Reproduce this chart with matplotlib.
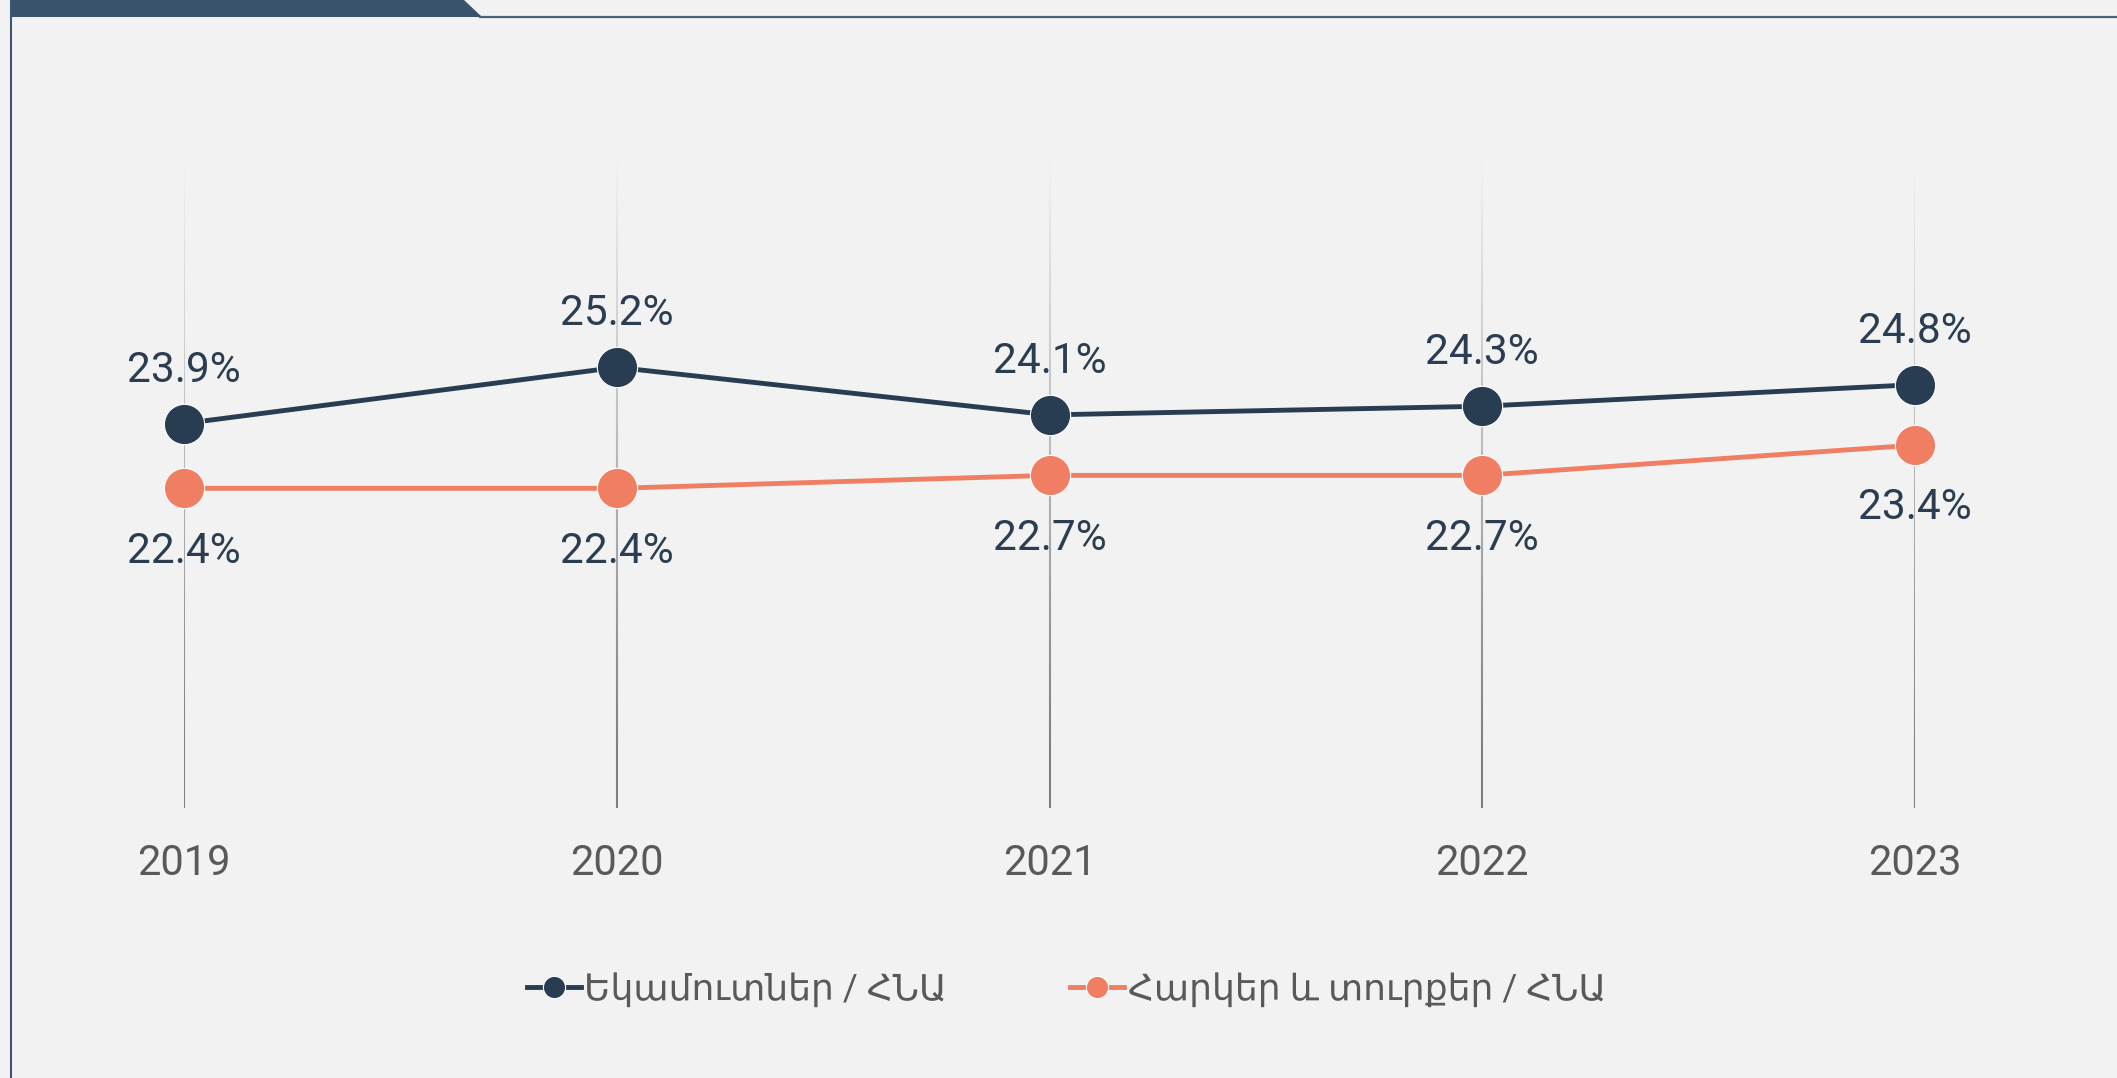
import numpy as np
import matplotlib
matplotlib.use("Agg")
import matplotlib.pyplot as plt
from matplotlib.collections import LineCollection
from matplotlib.lines import Line2D
from matplotlib.patches import Polygon

years = ["2019", "2020", "2021", "2022", "2023"]
revenues = [23.9, 25.2, 24.1, 24.3, 24.8]
taxes = [22.4, 22.4, 22.7, 22.7, 23.4]
series_names = ["Եկամուտներ / ՀՆԱ", "Հարկեր և տուրքեր / ՀՆԱ"]

BG = "#f2f2f2"
DARK = "#283d52"
ORANGE = "#f07e63"
FONT = ["Roboto", "DejaVu Sans"]
plt.rcParams["font.family"] = FONT

W, H = 2117, 1078
fig = plt.figure(figsize=(W / 100, H / 100), dpi=100, facecolor=BG)

def fx(px):
    return px / W
def fy(py):
    return 1 - py / H

# frame decorations
fig.patches.append(Polygon([(fx(11), fy(0)), (fx(464), fy(0)), (fx(482), fy(17)), (fx(11), fy(17))],
                           closed=True, transform=fig.transFigure, facecolor="#38536b", edgecolor="none"))
fig.add_artist(Line2D([fx(480), 1.0], [fy(17), fy(17)], transform=fig.transFigure, color="#4a6078", lw=1.6))
fig.add_artist(Line2D([fx(11), fx(11)], [0, 1], transform=fig.transFigure, color="#3d5570", lw=1.5))

x = np.arange(len(years))
left, right = 184, 1915
top, bottom = 160, 808
ax = fig.add_axes([fx(left), fy(bottom), (right - left) / W, (bottom - top) / H])
ax.set_facecolor("none")
ax.set_xlim(0, len(years) - 1)
ax.set_ylim(15, 30)
for s in ax.spines.values():
    s.set_visible(False)
ax.set_yticks([])

# gradient vertical grid lines
N = 120
ys = np.linspace(15, 30, N + 1)
bg_rgb = np.array(matplotlib.colors.to_rgb(BG))
gr_rgb = np.array(matplotlib.colors.to_rgb("#808080"))
for xi in x:
    segs = [[(xi, ys[i]), (xi, ys[i + 1])] for i in range(N)]
    t = 1 - (ys[:-1] - 15) / 15
    t = np.clip(t * 1.1, 0, 1)
    cols = [tuple(bg_rgb + (gr_rgb - bg_rgb) * ti) for ti in t]
    ax.add_collection(LineCollection(segs, colors=cols, linewidths=1.5, zorder=1))

ms = 29
lw = 3.5
ax.plot(x, revenues, color=DARK, lw=lw, marker="o", ms=ms, mfc=DARK, mec="white", mew=0.8,
        zorder=3, clip_on=False)
ax.plot(x, taxes, color=ORANGE, lw=lw, marker="o", ms=ms, mfc=ORANGE, mec="white", mew=0.8,
        zorder=3, clip_on=False)

for xi, v in zip(x, revenues):
    ax.annotate(f"{v:.1f}%", (xi, v), xytext=(0, 30.2), textcoords="offset points",
                ha="center", va="baseline", fontsize=30.5, color="#2b3d50", zorder=4)
for xi, v in zip(x, taxes):
    ax.annotate(f"{v:.1f}%", (xi, v), xytext=(0, -53.5), textcoords="offset points",
                ha="center", va="baseline", fontsize=30.5, color="#2b3d50", zorder=4)

ax.set_xticks(x, labels=years)
ax.tick_params(axis="x", length=0, pad=25.5, labelsize=30, labelcolor="#595959")

handles = [
    Line2D([], [], color=DARK, lw=lw, marker="o", ms=16, mfc=DARK, mec="white", mew=0.8),
    Line2D([], [], color=ORANGE, lw=lw, marker="o", ms=16, mfc=ORANGE, mec="white", mew=0.8),
]
leg = fig.legend(handles, series_names, loc="center", bbox_to_anchor=(0.5036, fy(990)), ncol=2,
                 frameon=False, fontsize=26, handlelength=1.5, handletextpad=0.1,
                 columnspacing=3.4, labelcolor="#595959")

fig.savefig("out.png", dpi=100, facecolor=BG)
